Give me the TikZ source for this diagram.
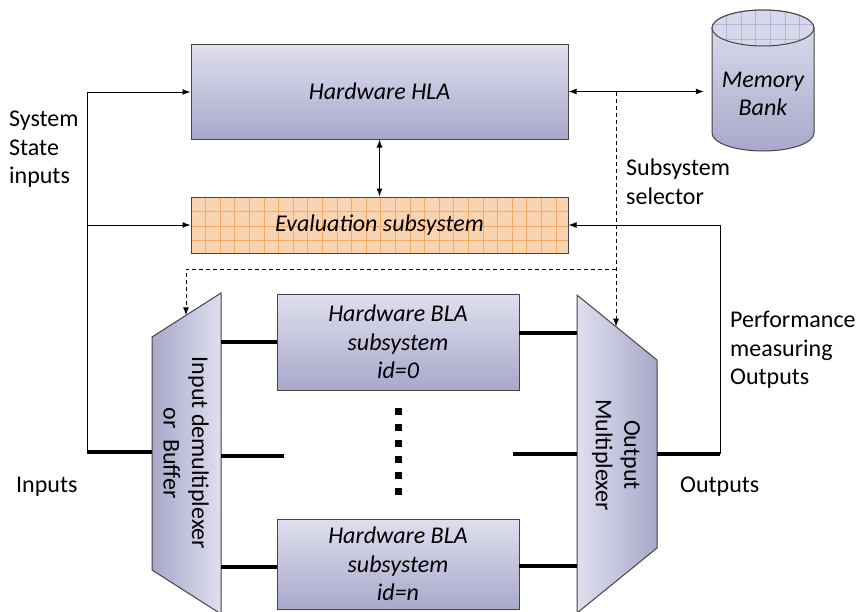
\documentclass[tikz,border=0pt]{standalone}
\usepackage{fontspec}
\setmainfont{Carlito}
\usetikzlibrary{arrows.meta,calc}
\definecolor{boxtop}{HTML}{DFDFEF}
\definecolor{boxbot}{HTML}{A8A8CB}
\definecolor{edge}{HTML}{444444}
\definecolor{evfill}{HTML}{FAD3B0}
\definecolor{evgrid}{HTML}{F2AA68}
\definecolor{memfill}{HTML}{D8D8EC}
\definecolor{memgrid}{HTML}{B4B4D8}
\tikzset{
  itf/.style={font=\fontsize{24}{28.5}\selectfont\itshape},
  blk/.style={draw=edge, line width=1pt, top color=boxtop, bottom color=boxbot,
    itf, align=center, inner sep=0},
  arr/.style={-{Latex[length=8pt,width=6pt]}, line width=1pt},
  dbl/.style={{Latex[length=8pt,width=6pt]}-{Latex[length=8pt,width=6pt]}, line width=1pt},
  bus/.style={line width=4pt},
  sel/.style={dash pattern=on 4pt off 3pt, line width=1pt},
  lbl/.style={align=left, inner sep=0, anchor=north west},
  muxshape/.style={draw=edge, line width=1pt},
}
\begin{document}
\begin{tikzpicture}[x=1pt,y=-1pt,font=\fontsize{24}{28.5}\selectfont]
\useasboundingbox (0,0) rectangle (859,611);
\clip (0,0) rectangle (859,611);

% Hardware HLA
\node[blk, minimum width=377, minimum height=95] (hla) at (379.5,91.5) {Hardware HLA};

% Evaluation subsystem
\node[draw=edge, line width=1pt, fill=evfill, minimum width=377, minimum height=56, inner sep=0,
  itf,
  path picture={
    \foreach \i in {1,...,26}{\draw[evgrid,line width=0.7pt]
      ($(path picture bounding box.north west)+(\i*14.6,0)$) -- ++(0,60);}
    \foreach \j in {1,2,3}{\draw[evgrid,line width=0.7pt]
      ($(path picture bounding box.north west)+(0,\j*14.6)$) -- ++(380,0);}
  }] (eval) at (379.5,225) {Evaluation subsystem};

% Memory bank cylinder
\node[minimum width=102, minimum height=141, inner sep=0] (mem) at (763,80.5) {};
\path[draw=edge, line width=1pt, top color=boxtop, bottom color=boxbot]
  (712,28) -- (712,133) .. controls (712,142.94) and (734.83,151) .. (763,151)
  .. controls (791.17,151) and (814,142.94) .. (814,133) -- (814,28)
  .. controls (814,18.06) and (791.17,10) .. (763,10)
  .. controls (734.83,10) and (712,18.06) .. (712,28) -- cycle;
\begin{scope}
  \clip (763,28) ellipse [x radius=51, y radius=18];
  \fill[memfill] (712,10) rectangle (814,46);
  \foreach \i in {1,...,7}{\draw[memgrid,line width=0.7pt] (712+\i*14.6,10) -- ++(0,36);}
  \foreach \j in {1,2}{\draw[memgrid,line width=0.7pt] (712,10+\j*14.6) -- ++(102,0);}
\end{scope}
\draw[edge, line width=1pt] (763,28) ellipse [x radius=51, y radius=18];
\node[itf, align=center, inner sep=0] (memtxt) at (763,94) {Memory\\Bank};

% BLA subsystems
\node[blk, minimum width=242, minimum height=96] (bla0) at (398,342) {Hardware BLA\\subsystem\\id=0};
\node[blk, minimum width=242, minimum height=90] (blan) at (398,564) {Hardware BLA\\subsystem\\id=n};

% dots
\foreach \k in {0,...,5}{\fill (394.5,407.5+16*\k) rectangle ++(7,7);}

% Input demultiplexer
\coordinate (dmTL) at (152,337);
\coordinate (dmTR) at (221,293);
\coordinate (dmBR) at (221,614);
\coordinate (dmBL) at (152,570);
\path[muxshape, left color=boxbot, right color=boxtop] (dmTL) -- (dmTR) -- (dmBR) -- (dmBL) -- cycle;
\node[rotate=-90, align=center, inner sep=0] (dmtxt) at (186,453) {Input demultiplexer\\or~ Buffer};

% Output multiplexer
\coordinate (muxTL) at (577,295);
\coordinate (muxTR) at (657,360);
\coordinate (muxBR) at (657,548);
\coordinate (muxBL) at (577,613);
\path[muxshape, left color=boxtop, right color=boxbot] (muxTL) -- (muxTR) -- (muxBR) -- (muxBL) -- cycle;
\node[rotate=-90, align=center, inner sep=0] (muxtxt) at (616,455) {Output\\Multiplexer};

% coordinates for connectors
\coordinate (inTop) at (87,92);
\coordinate (inMid) at (87,225);
\coordinate (inBot) at (87,452);
\coordinate (dmIn) at (152,452);
\coordinate (dmO0) at (221,342);
\coordinate (dmOm) at (221,456);
\coordinate (dmMidEnd) at (284,456);
\coordinate (dmOn) at (221,567);
\coordinate (blanIn) at (277,567);
\coordinate (bla0Out) at (519,333);
\coordinate (mux0) at (577,333);
\coordinate (muxMidStart) at (513,454);
\coordinate (muxm) at (577,454);
\coordinate (blanOut) at (519,566);
\coordinate (muxn) at (577,566);
\coordinate (muxOut) at (657,454);
\coordinate (outEnd) at (720,454);
\coordinate (fbTop) at (720,225);
\coordinate (selTop) at (616,91.5);
\coordinate (selJoin) at (616,269);
\coordinate (selHit) at (616,326.7);
\coordinate (selLeft) at (186,269);
\coordinate (dmHit) at (186,315.3);

% inputs
\draw[line width=1pt] (inBot) -- (inTop);
\draw[arr] (inTop) -- (inTop -| hla.west);
\draw[arr] (inMid) -- (eval.west);
\draw[bus] (inBot) -- (dmIn);

% HLA links
\draw[dbl] (hla.south) -- (eval.north);
\draw[dbl, shorten >=8pt] (hla.east) -- (hla.east -| mem.west);

% subsystem selector
\draw[sel, -{Latex[length=8pt,width=6pt]}] (selTop) -- (selHit);
\draw[sel, -{Latex[length=8pt,width=6pt]}] (selJoin) -- (selLeft) -- (dmHit);

% buses
\draw[bus] (dmO0) -- (bla0.west |- dmO0);
\draw[bus] (dmOm) -- (dmMidEnd);
\draw[bus] (dmOn) -- (blanIn);
\draw[bus] (bla0Out) -- (mux0);
\draw[bus] (muxMidStart) -- (muxm);
\draw[bus] (blanOut) -- (muxn);
\draw[bus] (muxOut) -- (outEnd);

% feedback
\draw[line width=1pt] (outEnd) -- (fbTop);
\draw[arr] (fbTop) -- (eval.east);

% labels
\node[lbl] (ssi) at (9,111) {System\\State\\inputs};
\node[lbl] (ssel) at (626,159) {Subsystem\\selector};
\node[lbl] (perf) at (730,311) {Performance\\measuring\\Outputs};
\node[anchor=base west, inner sep=0] (inlbl) at (16,492) {Inputs};
\node[anchor=base west, inner sep=0] (outlbl) at (680,492) {Outputs};
\end{tikzpicture}
\end{document}
